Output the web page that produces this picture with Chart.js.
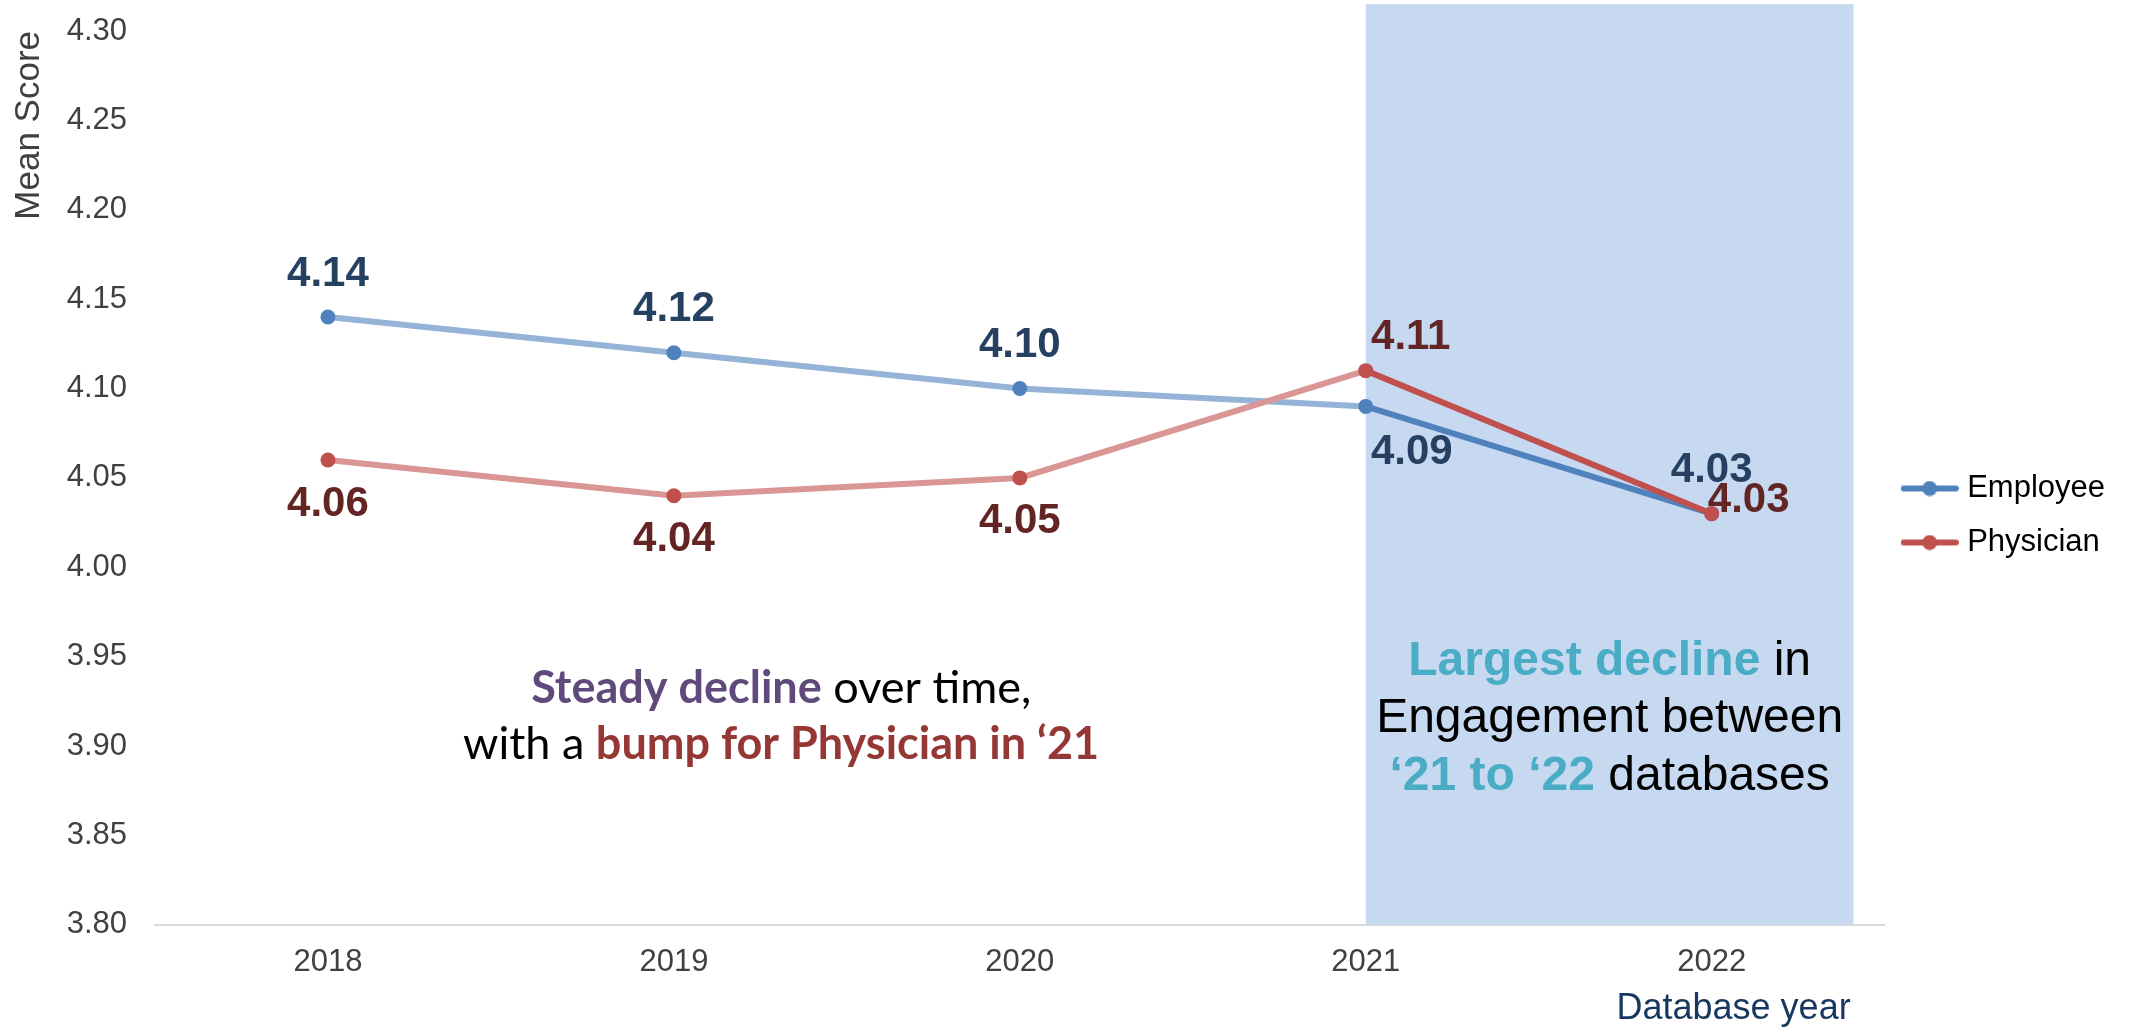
<!DOCTYPE html>
<html>
<head>
<meta charset="utf-8">
<script src="https://cdn.jsdelivr.net/npm/chart.js@4.4.1/dist/chart.umd.min.js"></script>
<style>
  html, body { margin: 0; padding: 0; background: #fff; }
  #wrap { width: 2133px; height: 1027px; }
</style>
</head>
<body>
<div id="wrap"><canvas id="lineChart" width="2133" height="1027"></canvas></div>
<script>
// data
const years = ['2018', '2019', '2020', '2021', '2022'];
const employee = [4.14, 4.12, 4.10, 4.09, 4.03];
const physician = [4.06, 4.04, 4.05, 4.11, 4.03];
const employeeLabelSide = ['above', 'above', 'above', 'belowRight', 'above'];
const physicianLabelSide = ['below', 'below', 'below', 'aboveRight', 'right'];
const yMin = 3.80, yMax = 4.30, yStep = 0.05;

const empColor = '#4F81BD', empLight = '#95B3D7', empText = '#254061';
const phyColor = '#C0504D', phyLight = '#DA9694', phyText = '#632523';
const labelOffsets = {
  above: [0, -43], below: [0, 44], belowRight: [46, 46], aboveRight: [45, -33], right: [37, -13]
};

function legendIcon(color) {
  const c = document.createElement('canvas');
  c.width = 58; c.height = 16;
  const g = c.getContext('2d');
  g.strokeStyle = color; g.lineWidth = 6; g.lineCap = 'round';
  g.beginPath(); g.moveTo(3, 8); g.lineTo(55, 8); g.stroke();
  g.fillStyle = color;
  g.beginPath(); g.arc(29, 8, 7.5, 0, Math.PI * 2); g.fill();
  return c;
}
const icons = [legendIcon(empColor), legendIcon(phyColor)];

// draws a line of text made of [text, bold, color] pieces, centred on x
function richLine(ctx, parts, x, y, size, family) {
  let total = 0;
  parts.forEach(p => {
    ctx.font = (p[1] ? 'bold ' : '') + size + 'px ' + family;
    total += ctx.measureText(p[0]).width;
  });
  let cx = x - total / 2;
  parts.forEach(p => {
    ctx.font = (p[1] ? 'bold ' : '') + size + 'px ' + family;
    ctx.fillStyle = p[2];
    ctx.fillText(p[0], cx, y);
    cx += ctx.measureText(p[0]).width;
  });
}

const shadePlugin = {
  id: 'shade',
  beforeDatasetsDraw(chart) {
    const ctx = chart.ctx, xs = chart.scales.x, ys = chart.scales.y;
    const step = xs.getPixelForValue(4) - xs.getPixelForValue(3);
    const x0 = xs.getPixelForValue(3);
    const x1 = xs.getPixelForValue(4) + step * 0.41;
    const y0 = ys.getPixelForValue(4.315);
    ctx.save();
    ctx.fillStyle = '#C6D9F1';
    ctx.fillRect(x0, y0, x1 - x0, ys.bottom - y0);
    ctx.restore();
  }
};

const labelPlugin = {
  id: 'pointLabels',
  afterDatasetsDraw(chart) {
    const ctx = chart.ctx;
    const sides = [employeeLabelSide, physicianLabelSide];
    const colors = [empText, phyText];
    ctx.save();
    ctx.font = "bold 42px 'Liberation Sans', Arial, sans-serif";
    ctx.textAlign = 'center';
    ctx.textBaseline = 'middle';
    chart.data.datasets.forEach((ds, di) => {
      chart.getDatasetMeta(di).data.forEach((pt, i) => {
        const off = labelOffsets[sides[di][i]];
        ctx.fillStyle = colors[di];
        ctx.fillText(ds.data[i].toFixed(2), pt.x + off[0], pt.y + off[1]);
      });
    });
    ctx.restore();
  }
};

const notesPlugin = {
  id: 'notes',
  afterDraw(chart) {
    const ctx = chart.ctx, xs = chart.scales.x, ys = chart.scales.y;
    const step = xs.getPixelForValue(1) - xs.getPixelForValue(0);
    ctx.save();
    ctx.textBaseline = 'alphabetic';
    ctx.textAlign = 'left';
    const lx = xs.getPixelForValue(1) + step * 0.31;
    richLine(ctx, [['Steady decline', true, '#604A7B'], [' over time,', false, '#000']],
      lx, ys.getPixelForValue(3.924), 45, 'Lato, sans-serif');
    richLine(ctx, [['with a ', false, '#000'], ['bump for Physician in \u201821', true, '#953735']],
      lx, ys.getPixelForValue(3.8926), 45, 'Lato, sans-serif');
    const rx = xs.getPixelForValue(3) + step * 0.705;
    const fam = "'Liberation Sans', Arial, sans-serif";
    richLine(ctx, [['Largest decline', true, '#4BACC6'], [' in', false, '#000']],
      rx, 675, 48, fam);
    richLine(ctx, [['Engagement between', false, '#000']], rx, 732, 48, fam);
    richLine(ctx, [['\u201821 to \u201822', true, '#4BACC6'], [' databases', false, '#000']],
      rx, 790, 48, fam);
    // x axis title, set towards the right end
    ctx.font = "36px 'Liberation Sans', Arial, sans-serif";
    ctx.fillStyle = '#17375E';
    ctx.textAlign = 'right';
    ctx.fillText('Database year', chart.chartArea.right - 34, 1019);
    ctx.restore();
  }
};

Chart.defaults.font.family = "'Liberation Sans', Arial, sans-serif";

const data = {
  labels: years,
  datasets: [{
    label: 'Employee',
    data: employee,
    borderColor: empColor,
    backgroundColor: empColor,
    pointBackgroundColor: empColor,
    pointBorderWidth: 0,
    pointRadius: 7.5,
    borderWidth: 6,
    order: 1,
    segment: { borderColor: c => c.p0DataIndex >= 3 ? empColor : empLight }
  }, {
    label: 'Physician',
    data: physician,
    borderColor: phyColor,
    backgroundColor: phyColor,
    pointBackgroundColor: phyColor,
    pointBorderWidth: 0,
    pointRadius: 7.5,
    borderWidth: 6,
    order: 0,
    segment: { borderColor: c => c.p0DataIndex >= 3 ? phyColor : phyLight }
  }]
};

const ctx = document.getElementById('lineChart').getContext('2d');
const myChart = new Chart(ctx, {
  type: 'line',
  data: data,
  plugins: [shadePlugin, labelPlugin, notesPlugin],
  options: {
    responsive: false,
    animation: false,
    devicePixelRatio: 1,
    layout: { padding: { left: 8, top: 31, right: 18, bottom: 27 } },
    plugins: {
      tooltip: { enabled: false },
      legend: {
        position: 'right',
        align: 'center',
        labels: {
          usePointStyle: true,
          pointStyleWidth: 44,
          padding: 23,
          color: '#000',
          font: { size: 31 },
          sort: (a, b) => a.datasetIndex - b.datasetIndex,
          generateLabels: chart => Chart.defaults.plugins.legend.labels.generateLabels(chart)
            .map(item => Object.assign(item, { pointStyle: icons[item.datasetIndex] }))
        }
      }
    },
    scales: {
      x: {
        offset: true,
        grid: { display: false, drawTicks: false },
        border: { display: true, color: '#D9D9D9', width: 2 },
        ticks: { color: '#404040', font: { size: 31 }, padding: 19 }
      },
      y: {
        min: yMin,
        max: yMax,
        afterFit: scale => {
          scale.width = 147;
          scale.paddingTop = 0;
          scale.paddingBottom = 0;
        },
        grid: { display: false, drawTicks: false },
        border: { display: false },
        ticks: {
          stepSize: yStep,
          color: '#404040',
          font: { size: 31 },
          padding: 28,
          callback: v => Number(v).toFixed(2)
        },
        title: {
          display: true,
          align: 'end',
          text: 'Mean Score',
          color: '#404040',
          font: { size: 35 },
          padding: { top: 0, bottom: 0 }
        }
      }
    }
  }
});
</script>
</body>
</html>
